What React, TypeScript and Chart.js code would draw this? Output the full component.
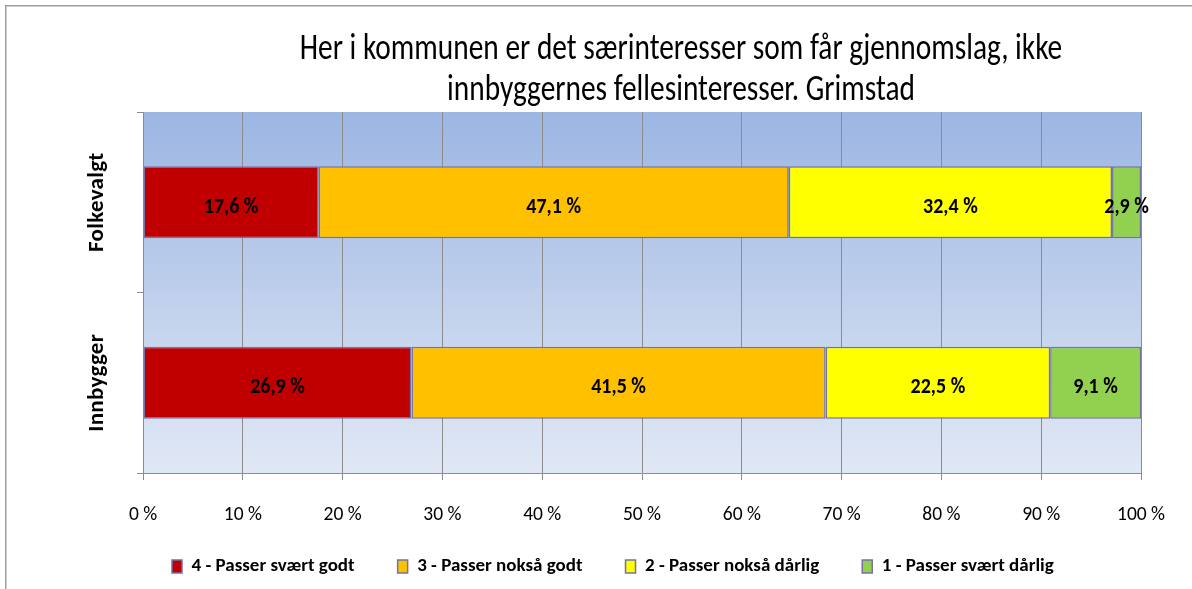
import { useEffect, useRef } from 'react';
import { Chart, registerables } from 'chart.js';

Chart.register(...registerables);

const FONT = 'Carlito, Calibri, "Liberation Sans", sans-serif';
const TITLE_STRETCH = 1.28;
const LABEL_STRETCH = 1.12;

const titleLines = [
  'Her i kommunen er det særinteresser som får gjennomslag, ikke',
  'innbyggernes fellesinteresser. Grimstad',
];
const categories = ['Folkevalgt', 'Innbygger'];
const seriesNames = [
  '4 - Passer svært godt',
  '3 - Passer nokså godt',
  '2 - Passer nokså dårlig',
  '1 - Passer svært dårlig',
];
const passerSvaertGodt = [17.6, 26.9];
const passerNoksaGodt = [47.1, 41.5];
const passerNoksaDarlig = [32.4, 22.5];
const passerSvaertDarlig = [2.9, 9.1];
const seriesColors = ['#C00000', '#FFC000', '#FFFF00', '#92D050'];
const xTickStep = 10;

const fmt = (v: number) => v.toFixed(1).replace('.', ',') + ' %';

const framePlugin = {
  id: 'frame',
  afterLayout(chart: any) {
    const t = chart.titleBlock;
    if (t) {
      t.left = 221;
      t.right = 1141;
      if (!t.__p) {
        const orig = t.draw.bind(t);
        t.draw = (area: any) => {
          const c = chart.ctx;
          c.save();
          c.scale(1, TITLE_STRETCH);
          orig(area);
          c.restore();
        };
        t.__p = true;
      }
    }
    const lg = chart.legend;
    if (lg) {
      lg.left = 129;
      lg.top = 514;
    }
  },
  beforeDraw(chart: any) {
    const { ctx, chartArea: a } = chart;
    ctx.save();
    const g = ctx.createLinearGradient(0, a.top, 0, a.bottom);
    g.addColorStop(0, '#9CB6E3');
    g.addColorStop(1, '#E1E8F5');
    ctx.fillStyle = g;
    ctx.fillRect(a.left, a.top, a.right - a.left, a.bottom - a.top);
    ctx.fillStyle = '#9d9d9d';
    ctx.fillRect(5, 5, chart.width - 5, 1.5);
    ctx.fillRect(5, 5, 1.5, chart.height - 5);
    ctx.restore();
    const ys = chart.scales.y;
    if (ys && !ys.__ls) {
      const orig = ys.drawLabels.bind(ys);
      ys.drawLabels = (area: any) => {
        ctx.save();
        ctx.letterSpacing = '0.3px';
        orig(area);
        ctx.restore();
      };
      ys.__ls = true;
    }
  },
};

const labelPlugin = {
  id: 'barLabels',
  afterDatasetsDraw(chart: any) {
    const ctx = chart.ctx;
    chart.data.datasets.forEach((ds: any, i: number) => {
      const meta = chart.getDatasetMeta(i);
      meta.data.forEach((el: any, j: number) => {
        const { x, y, base } = el.getProps(['x', 'y', 'base'], true);
        ctx.save();
        ctx.font = `bold 20px ${FONT}`;
        ctx.fillStyle = '#000';
        ctx.textAlign = 'center';
        ctx.textBaseline = 'middle';
        ctx.translate((x + base) / 2, y + 5);
        ctx.scale(1, LABEL_STRETCH);
        ctx.fillText(fmt(ds.data[j]), 0, 0);
        ctx.restore();
      });
    });
  },
};

export default function App() {
  const ref = useRef<HTMLCanvasElement>(null);

  useEffect(() => {
    const m = document.createElement('canvas').getContext('2d')!;
    m.font = `bold 23px ${FONT}`;
    const widest = Math.max(...categories.map((c) => m.measureText(c).width));
    const yPad = 137 - 97.5 - widest / 2;

    const values = [passerSvaertGodt, passerNoksaGodt, passerNoksaDarlig, passerSvaertDarlig];
    const chart = new Chart(ref.current!, {
      type: 'bar',
      data: {
        labels: categories,
        datasets: seriesNames.map((name, i) => ({
          label: name,
          data: values[i],
          backgroundColor: seriesColors[i],
          borderColor: '#7372A6',
          borderWidth: 1.5,
          borderSkipped: false,
          barPercentage: 0.4,
          categoryPercentage: 1.0,
        })),
      },
      options: {
        indexAxis: 'y',
        animation: false,
        responsive: true,
        maintainAspectRatio: false,
        devicePixelRatio: 1,
        layout: { padding: { top: 0, left: 60, right: 51, bottom: -4 } },
        scales: {
          x: {
            type: 'linear',
            stacked: true,
            min: 0,
            max: 100,
            ticks: {
              stepSize: xTickStep,
              callback: (v: any) => `${v} %`,
              font: { size: 19.5, family: FONT },
              color: '#000',
              padding: 23,
            },
            grid: { color: '#8c8c8c', tickLength: 7, drawTicks: true, lineWidth: 1 },
            border: { color: '#8c8c8c' },
            afterFit: (s: any) => {
              s.height = 48;
            },
          },
          y: {
            type: 'category',
            stacked: true,
            ticks: {
              minRotation: 90,
              maxRotation: 90,
              autoSkip: false,
              crossAlign: 'center',
              padding: yPad,
              font: { size: 23, weight: 'bold', family: FONT },
              color: '#000',
            },
            grid: {
              display: true,
              drawOnChartArea: false,
              drawTicks: true,
              tickLength: 6,
              color: '#8c8c8c',
              offset: true,
            },
            border: { color: '#8c8c8c' },
            afterFit: (s: any) => {
              s.width = 83;
            },
          },
        },
        plugins: {
          title: {
            display: true,
            text: titleLines,
            color: '#000',
            font: { size: 29.4, family: FONT, weight: 'normal', lineHeight: 32 / 29.4 },
            padding: { top: 22.7, bottom: 25.3 },
          },
          legend: {
            position: 'bottom',
            align: 'start',
            labels: {
              boxWidth: 10,
              boxHeight: 13,
              padding: 43,
              color: '#000',
              font: { size: 19, weight: 'bold', family: FONT },
            },
          },
          tooltip: { enabled: false },
        },
      },
      plugins: [framePlugin, labelPlugin],
    } as any);
    return () => chart.destroy();
  }, []);

  return (
    <div style={{ position: 'absolute', left: 0, top: 0, width: 1192, height: 589 }}>
      <canvas ref={ref} />
    </div>
  );
}
